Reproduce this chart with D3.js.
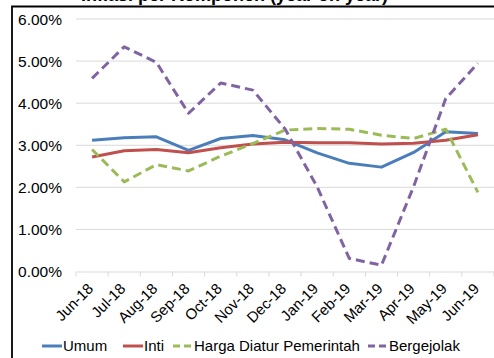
<!DOCTYPE html>
<html><head><meta charset="utf-8">
<script src="https://cdn.jsdelivr.net/npm/d3@7"></script>
<style>body{margin:0;background:#fff}svg{display:block}</style>
</head><body>
<script>
const months = ["Jun-18","Jul-18","Aug-18","Sep-18","Oct-18","Nov-18","Dec-18","Jan-19","Feb-19","Mar-19","Apr-19","May-19","Jun-19"];
const umum = [3.12,3.18,3.20,2.88,3.16,3.23,3.13,2.82,2.57,2.48,2.83,3.32,3.28];
const inti = [2.72,2.87,2.90,2.82,2.94,3.03,3.07,3.06,3.06,3.03,3.05,3.12,3.25];
const diatur = [2.90,2.13,2.54,2.39,2.74,3.04,3.36,3.40,3.38,3.24,3.16,3.38,1.88];
const bergejolak = [4.59,5.34,4.97,3.76,4.48,4.31,3.39,2.01,0.31,0.15,2.02,4.11,4.95];
const yTicks = [0,1,2,3,4,5,6];
const seriesNames = ["Umum","Inti","Harga Diatur Pemerintah","Bergejolak"];
const titleText = "Inflasi per Komponen (year on year)";

const W = 494, H = 358;
const colors = ["#4a7ebb","#c0504d","#9bbb59","#8064a2"];
const dashes = [null,null,"9,5","9,5"];
const seriesData = [umum,inti,diatur,bergejolak];
const font = "'Liberation Sans', Arial, sans-serif";

const svg = d3.select("body").append("svg").attr("width",W).attr("height",H);

const x = d3.scaleBand().domain(months).range([76,494]);
const y = d3.scaleLinear().domain([0,6]).range([271.5,19]);

// title (cut off at top, as in the reference)
svg.append("text").attr("x",388).attr("y",0.5).attr("text-anchor","end")
  .attr("font-family",font).attr("font-size",18).attr("font-weight","bold").attr("fill","#000")
  .text(titleText);

// frame
svg.append("path").attr("d",`M12,${H} L12,6.5 L${W},6.5`).attr("fill","none").attr("stroke","#000").attr("stroke-width",1.8);

// gridlines
svg.append("g").selectAll("line").data(yTicks.filter(d=>d>0)).join("line")
  .attr("x1",76).attr("x2",494).attr("y1",d=>y(d)).attr("y2",d=>y(d))
  .attr("stroke","#d9d9d9").attr("stroke-width",1);

// y labels
const yAxis = d3.axisLeft(y).tickValues(yTicks).tickFormat(d=>d3.format(".2f")(d)+"%").tickSize(0).tickPadding(0);
const gy = svg.append("g").attr("transform","translate(62,0)").call(yAxis);
gy.select(".domain").remove();
gy.selectAll("text").attr("font-family",font).attr("font-size",15.5).attr("fill","#000").attr("dy","0.35em");

// x axis
const xAxis = d3.axisBottom(x).tickSize(0);
const gx = svg.append("g").attr("transform",`translate(0,${y(0)})`).call(xAxis);
gx.select(".domain").attr("stroke","#d9d9d9");
gx.selectAll("text").attr("font-family",font).attr("font-size",15).attr("fill","#000")
  .attr("text-anchor","end").attr("dy","0").attr("dx","0")
  .attr("transform","translate(0,16) rotate(-45)");
// tick marks between categories
const bounds = months.map(m=>x(m)).concat([x(months[months.length-1])+x.bandwidth()]);
svg.append("g").selectAll("line").data(bounds).join("line")
  .attr("x1",d=>d).attr("x2",d=>d).attr("y1",y(0)).attr("y2",y(0)+5)
  .attr("stroke","#d9d9d9").attr("stroke-width",1);

// lines
const line = d3.line().x((d,i)=>x(months[i])+x.bandwidth()/2).y(d=>y(d));
seriesData.forEach((s,k)=>{
  svg.append("path").datum(s).attr("d",line).attr("fill","none")
    .attr("stroke",colors[k]).attr("stroke-width",3)
    .attr("stroke-dasharray",dashes[k]).attr("stroke-linejoin","round");
});

// legend
const legX = [42,123,173,368];
const lg = svg.append("g");
seriesNames.forEach((n,k)=>{
  lg.append("line").attr("x1",legX[k]).attr("x2",legX[k]+20).attr("y1",346).attr("y2",346)
    .attr("stroke",colors[k]).attr("stroke-width",3).attr("stroke-dasharray",dashes[k]?"7,4":null);
  lg.append("text").attr("x",legX[k]+21).attr("y",346).attr("dy","0.35em")
    .attr("font-family",font).attr("font-size",15).attr("fill","#000").text(n);
});
</script>
</body></html>
